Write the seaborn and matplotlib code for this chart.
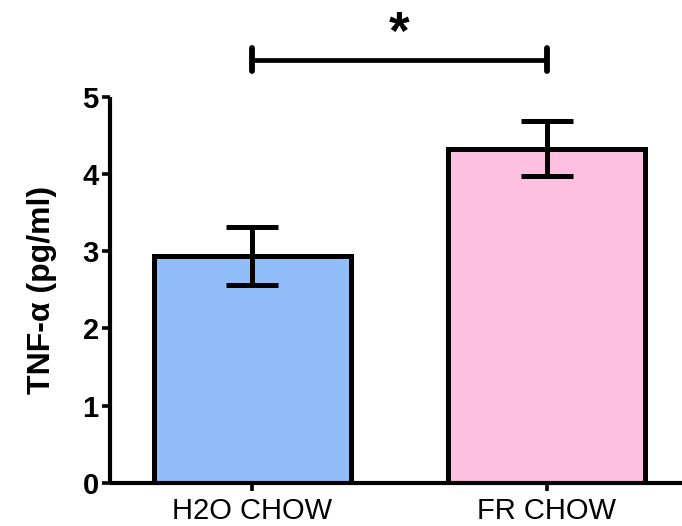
import matplotlib
matplotlib.use("Agg")
import matplotlib.pyplot as plt
import seaborn as sns
import pandas as pd

# Group means and SEM of TNF-alpha
groups = ["H2O CHOW", "FR CHOW"]
means = [2.94, 4.33]
sems = [0.38, 0.35]
colors = ["#91BEF8", "#FEBFE0"]
yticks = [0, 1, 2, 3, 4, 5]

sns.set_style("ticks")
plt.rcParams["font.family"] = ["Liberation Sans", "DejaVu Sans"]
plt.rcParams["text.color"] = "black"
plt.rcParams["axes.labelcolor"] = "black"
plt.rcParams["xtick.color"] = "black"
plt.rcParams["ytick.color"] = "black"
plt.rcParams["axes.edgecolor"] = "black"

df = pd.DataFrame({"group": groups, "value": means})

fig = plt.figure(figsize=(6.82, 5.26), dpi=100)
ax = fig.add_axes([0.161, 0.082, 0.839, 0.734])

sns.barplot(data=df, x="group", y="value", hue="group", palette=colors,
            saturation=1, width=0.67, edgecolor="black", linewidth=3.6,
            legend=False, errorbar=None, ax=ax)
ax.errorbar(range(len(groups)), means, yerr=sems, fmt="none", ecolor="black",
            elinewidth=3.6, capsize=19, capthick=3.6, zorder=5)

ax.set_ylim(0, 5)
ax.set_xlim(-0.485, 1.46)
ax.set_yticks(yticks)
ax.set_yticklabels([str(t) for t in yticks], fontsize=21, fontweight="bold")
ax.set_xticks(range(len(groups)))
ax.set_xticklabels(groups, fontsize=21)
ax.set_xlabel("")
ax.set_ylabel("TNF-α (pg/ml)", fontsize=23, fontweight="bold", labelpad=18)

for side in ["top", "right"]:
    ax.spines[side].set_visible(False)
for side in ["left", "bottom"]:
    ax.spines[side].set_linewidth(3.0)
    ax.spines[side].set_capstyle("butt")
ax.tick_params(axis="both", width=2.6, length=6, direction="out", pad=2)
ax.tick_params(axis="x", pad=4)

# Significance bracket between the two groups
yb = 5.48
ax.plot([0, 1], [yb, yb], color="black", lw=3.4, clip_on=False,
        solid_capstyle="butt")
for xb in [0, 1]:
    ax.plot([xb, xb], [yb - 0.15, yb + 0.15], color="black", lw=4.2,
            clip_on=False, solid_capstyle="round")
ax.text(0.5, 5.80, "*", ha="center", va="center", fontsize=38,
        fontweight="bold", clip_on=False)

fig.savefig("out.png", dpi=100)
